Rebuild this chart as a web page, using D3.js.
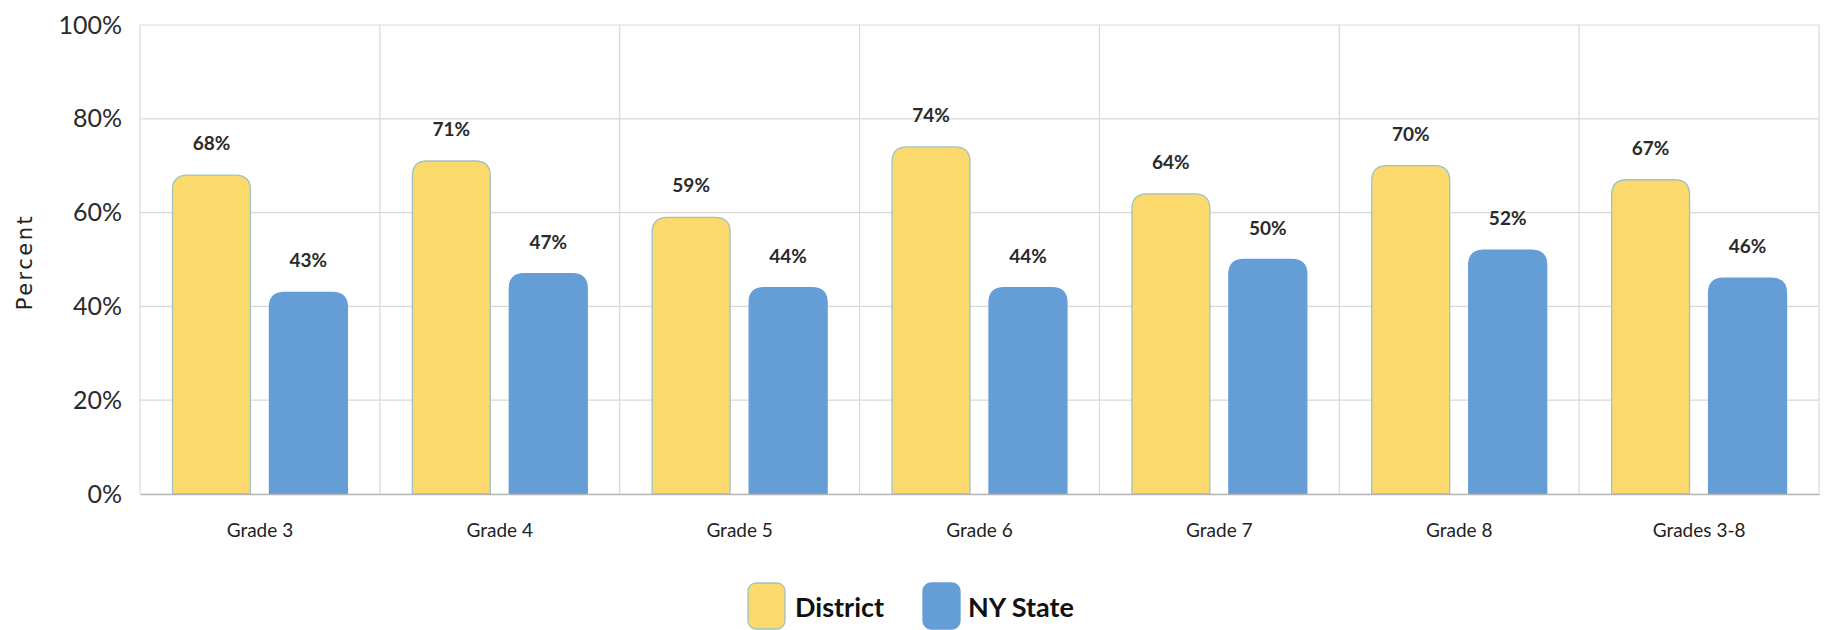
<!DOCTYPE html>
<html>
<head>
<meta charset="utf-8">
<script src="https://cdn.jsdelivr.net/npm/d3@7"></script>
<style>
  body { margin: 0; background: #fff; }
  svg { display: block; }
</style>
</head>
<body>
<svg id="chart" width="1832" height="630"></svg>
<script>
const categories = ["Grade 3", "Grade 4", "Grade 5", "Grade 6", "Grade 7", "Grade 8", "Grades 3-8"];
const seriesNames = ["District", "NY State"];
const districtValues = [68, 71, 59, 74, 64, 70, 67];
const stateValues = [43, 47, 44, 44, 50, 52, 46];
const yTicks = [0, 20, 40, 60, 80, 100];
const colors = { "District": "#FCD96C", "NY State": "#659ED7" };
const strokes = { "District": "#9EC3C2", "NY State": "#659ED7" };

const data = categories.map((c, i) => ({ cat: c, values: [
  { key: "District", value: districtValues[i] },
  { key: "NY State", value: stateValues[i] }
]}));

const svg = d3.select("#chart");
const plotLeft = 140, plotRight = 1819, plotTop = 25, plotBottom = 494;

const x0 = d3.scaleBand().domain(categories).range([plotLeft, plotRight]).padding(0);
const x1 = d3.scaleBand().domain(seriesNames).range([0, x0.bandwidth()])
  .paddingInner(0.196).paddingOuter(0.335);
const y = d3.scaleLinear().domain([0, 100]).range([plotBottom, plotTop]);

// horizontal gridlines
svg.append("g").selectAll("line").data(yTicks.filter(t => t > 0)).join("line")
  .attr("x1", plotLeft).attr("x2", plotRight)
  .attr("y1", d => y(d)).attr("y2", d => y(d))
  .attr("stroke", "#d9d9d9").attr("stroke-width", 1.2);

// vertical gridlines
const bounds = categories.map(c => x0(c)).concat([plotRight]);
svg.append("g").selectAll("line").data(bounds).join("line")
  .attr("x1", d => d).attr("x2", d => d)
  .attr("y1", plotTop).attr("y2", plotBottom)
  .attr("stroke", "#d9d9d9").attr("stroke-width", 1.2);

// y axis tick labels
const yAxis = d3.axisLeft(y).tickValues(yTicks).tickFormat(d => d + "%").tickSize(0).tickPadding(18);
const yg = svg.append("g").attr("transform", `translate(${plotLeft},0)`).call(yAxis);
yg.select(".domain").remove();
yg.selectAll("text").attr("font-family", "Lato, sans-serif").attr("font-size", 25)
  .attr("font-weight", 400).attr("fill", "#2a2a2a");

// bars
function topRounded(x, yTop, w, h, r) {
  r = Math.min(r, w / 2, h);
  return `M${x},${yTop + h}V${yTop + r}Q${x},${yTop} ${x + r},${yTop}H${x + w - r}Q${x + w},${yTop} ${x + w},${yTop + r}V${yTop + h}Z`;
}

const groups = svg.append("g").selectAll("g").data(data).join("g")
  .attr("transform", d => `translate(${x0(d.cat)},0)`);

groups.selectAll("path").data(d => d.values).join("path")
  .attr("d", d => topRounded(x1(d.key), y(d.value), x1.bandwidth(), plotBottom - y(d.value), 15))
  .attr("fill", d => colors[d.key])
  .attr("stroke", d => strokes[d.key])
  .attr("stroke-width", 1.3);

groups.selectAll("text").data(d => d.values).join("text")
  .attr("x", d => x1(d.key) + x1.bandwidth() / 2)
  .attr("y", d => y(d.value) - 25)
  .attr("text-anchor", "middle")
  .attr("font-family", "Lato, sans-serif").attr("font-size", 19).attr("font-weight", 700)
  .attr("fill", "#2a2a2a")
  .text(d => d.value + "%");

// x axis
const xAxis = d3.axisBottom(x0).tickSize(0).tickPadding(30);
const xg = svg.append("g").attr("transform", `translate(0,${plotBottom})`).call(xAxis);
xg.select(".domain").attr("stroke", "#b5b5b5").attr("stroke-width", 1.5);
xg.selectAll("text").attr("font-family", "Lato, sans-serif").attr("font-size", 19)
  .attr("fill", "#222");

// y axis title
svg.append("text")
  .attr("transform", `translate(32,262) rotate(-90)`)
  .attr("text-anchor", "middle")
  .attr("font-family", "'DejaVu Sans', sans-serif").attr("font-size", 21)
  .attr("letter-spacing", 2.5)
  .attr("fill", "#222")
  .text("Percent");

// legend
const legendItems = [
  { key: "District", sx: 748, tx: 795 },
  { key: "NY State", sx: 923, tx: 968 }
];
const lg = svg.append("g");
lg.selectAll("rect").data(legendItems).join("rect")
  .attr("x", d => d.sx).attr("y", 583).attr("width", 37).attr("height", 46)
  .attr("rx", 8).attr("ry", 8)
  .attr("fill", d => colors[d.key]).attr("stroke", d => strokes[d.key]).attr("stroke-width", 1.3);
lg.selectAll("text").data(legendItems).join("text")
  .attr("x", d => d.tx).attr("y", 617)
  .attr("font-family", "Lato, sans-serif").attr("font-size", 27).attr("font-weight", 700)
  .attr("fill", "#111")
  .text(d => d.key);
</script>
</body>
</html>
